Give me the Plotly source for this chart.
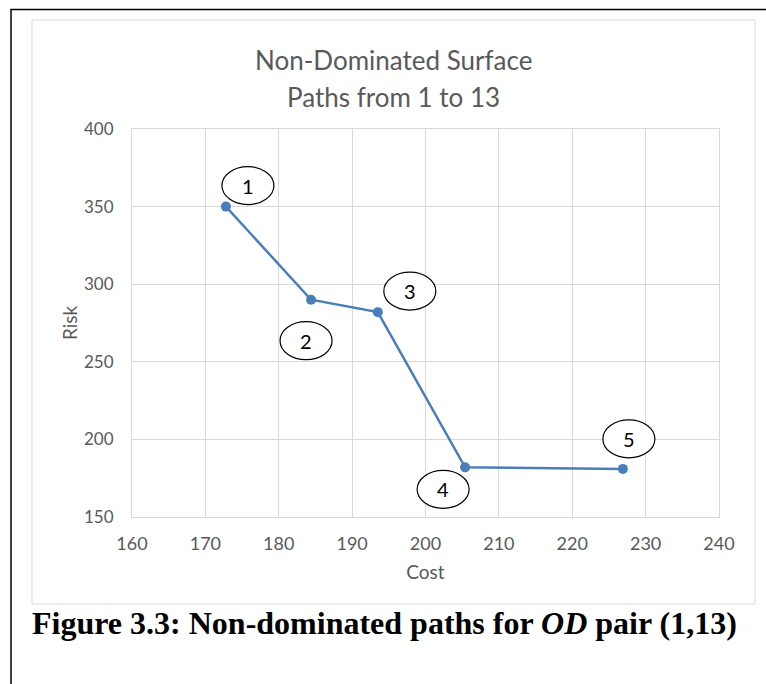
import plotly.graph_objects as go

# Non-dominated paths: cost vs. risk for each path label
path_labels = ["1", "2", "3", "4", "5"]
cost = [172.8, 184.4, 193.5, 205.4, 226.9]
risk = [350, 290, 282, 182, 181]

x_ticks = [160, 170, 180, 190, 200, 210, 220, 230, 240]
y_ticks = [150, 200, 250, 300, 350, 400]

# pixel offsets of each label bubble from its point (right, down)
label_offsets = [(22, -21), (-5, 41), (32, -21), (-22, 22), (6, -30)]

LINE_BLUE = "#4a7ebb"
AXIS_GREY = "#595959"
GRID_GREY = "#d9d9d9"
FONT = "Lato"

fig = go.Figure()
fig.add_trace(go.Scatter(
    x=cost, y=risk, mode="lines+markers",
    line=dict(color=LINE_BLUE, width=2.5),
    marker=dict(color=LINE_BLUE, size=10),
    hoverinfo="x+y", showlegend=False,
))

shapes = []
annotations = []

# chart-area frame and outer page frame
shapes.append(dict(type="rect", xref="paper", yref="paper",
                   x0=-0.17036, x1=1.06133, y0=-0.22423, y1=1.28093,
                   line=dict(color=GRID_GREY, width=1), layer="below"))
shapes.append(dict(type="rect", xref="paper", yref="paper",
                   x0=-0.2061, x1=1.12, y0=-0.48, y1=1.3080,
                   line=dict(color="black", width=1.5), layer="below"))

# ellipse bubbles with path numbers
for lab, cx, ry, (dx, dy) in zip(path_labels, cost, risk, label_offsets):
    shapes.append(dict(
        type="circle", xref="x", yref="y",
        xsizemode="pixel", ysizemode="pixel",
        xanchor=cx, yanchor=ry,
        x0=dx - 26, x1=dx + 26, y0=-dy - 19, y1=-dy + 19,
        line=dict(color="black", width=1.2), fillcolor="white", layer="above",
    ))
    annotations.append(dict(
        x=cx, y=ry, xref="x", yref="y", text=lab, showarrow=False,
        xshift=dx, yshift=-dy, font=dict(family=FONT, size=20, color="black"),
    ))

# two-line chart title
annotations.append(dict(text="Non-Dominated Surface", xref="paper", yref="paper",
                        x=0.4455, y=1.178, xanchor="center", yanchor="middle",
                        showarrow=False, font=dict(family=FONT, size=26, color=AXIS_GREY)))
annotations.append(dict(text="Paths from 1 to 13", xref="paper", yref="paper",
                        x=0.4455, y=1.0825, xanchor="center", yanchor="middle",
                        showarrow=False, font=dict(family=FONT, size=26, color=AXIS_GREY)))

# vertical axis title
annotations.append(dict(text="Risk", xref="paper", yref="paper",
                        x=-0.1073, y=0.5, xanchor="center", yanchor="middle",
                        textangle=-90, showarrow=False,
                        font=dict(family=FONT, size=19, color=AXIS_GREY)))

# figure caption
annotations.append(dict(
    text="<b>Figure 3.3: Non-dominated paths for <i>OD</i> pair (1,13)</b>",
    xref="paper", yref="paper", x=-0.1738, y=-0.274, xanchor="left", yanchor="middle",
    showarrow=False, font=dict(family="Liberation Serif", size=32, color="black"),
))

fig.update_layout(
    width=766, height=684,
    margin=dict(l=132, r=47, t=129, b=167),
    paper_bgcolor="white", plot_bgcolor="white",
    shapes=shapes, annotations=annotations,
    font=dict(family=FONT, color=AXIS_GREY),
)
fig.update_xaxes(
    range=[160, 240], tickvals=x_ticks, ticktext=[str(v) for v in x_ticks],
    showgrid=True, gridcolor=GRID_GREY, gridwidth=1,
    showline=True, linecolor=GRID_GREY, linewidth=1, mirror=True,
    zeroline=False, ticks="", ticklabelstandoff=10,
    tickfont=dict(family=FONT, size=18, color=AXIS_GREY),
    title=dict(text="Cost", font=dict(family=FONT, size=19, color=AXIS_GREY), standoff=13),
)
fig.update_yaxes(
    range=[150, 400], tickvals=y_ticks, ticktext=[str(v) for v in y_ticks],
    showgrid=True, gridcolor=GRID_GREY, gridwidth=1,
    showline=True, linecolor=GRID_GREY, linewidth=1, mirror=True,
    zeroline=False, ticks="", ticklabelstandoff=14,
    tickfont=dict(family=FONT, size=17, color=AXIS_GREY),
)

fig.write_html("out.html")
